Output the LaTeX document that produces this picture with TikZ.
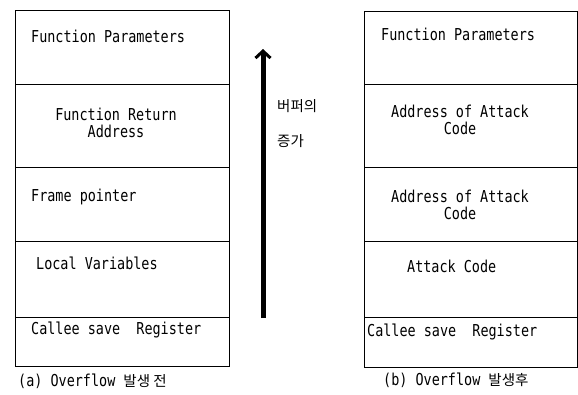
\documentclass[tikz,border=0pt]{standalone}
\usepackage{fontspec}
\setmainfont{DejaVu Sans Mono}[FakeStretch=0.82]
\newfontfamily\kr{Noto Sans CJK KR}
\usetikzlibrary{arrows.meta}
\begin{document}
\begin{tikzpicture}[x=1pt,y=-1pt,
  cell/.style={draw, line width=1.2pt, rectangle, inner sep=0pt, anchor=north west},
  lbl/.style={inner sep=0pt, font=\fontsize{16.4}{16}\selectfont, anchor=west},
  clbl/.style={inner sep=0pt, font=\fontsize{16.4}{17}\selectfont, align=center, anchor=center},
  captext/.style={inner sep=0pt, font=\fontsize{16.4}{16}\selectfont, anchor=west},
  krtext/.style={inner sep=0pt, anchor=west, font=\kr\fontsize{14.5}{16}\selectfont}]
\useasboundingbox (0,0) rectangle (578,394);
% left stack
\node[cell, minimum width=214pt, minimum height=74pt] (a1) at (15,10) {};
\node[cell, minimum width=214pt, minimum height=83pt] (a2) at (15,84) {};
\node[cell, minimum width=214pt, minimum height=74pt] (a3) at (15,167) {};
\node[cell, minimum width=214pt, minimum height=76pt] (a4) at (15,241) {};
\node[cell, minimum width=214pt, minimum height=49pt] (a5) at (15,317) {};
\node[lbl] (ta1) at (31,36) {Function Parameters};
\node[clbl] (ta2) at (116,123) {Function Return\\Address};
\node[lbl] (ta3) at (31,197) {Frame pointer};
\node[lbl] (ta4) at (36,263) {Local Variables};
\node[lbl] (ta5) at (31,330) {Callee save\ \ Register};
\node[captext] (capa) at (18,381) {(a) Overflow {\kr\fontsize{14.5}{16}\selectfont 발생 전}};
% right stack
\node[cell, minimum width=213pt, minimum height=73pt] (b1) at (364,11) {};
\node[cell, minimum width=213pt, minimum height=83pt] (b2) at (364,84) {};
\node[cell, minimum width=213pt, minimum height=74pt] (b3) at (364,167) {};
\node[cell, minimum width=213pt, minimum height=76pt] (b4) at (364,241) {};
\node[cell, minimum width=213pt, minimum height=50pt] (b5) at (364,317) {};
\node[lbl] (tb1) at (381,34) {Function Parameters};
\node[clbl] (tb2) at (460,120) {Address of Attack\\Code};
\node[clbl] (tb3) at (460,205) {Address of Attack\\Code};
\node[lbl] (tb4) at (407,266) {Attack Code};
\node[lbl] (tb5) at (367,332) {Callee save\ \ Register};
\node[captext] (capb) at (383,380) {(b) Overflow {\kr\fontsize{14.5}{16}\selectfont 발생후}};
% arrow
\coordinate (arrbot) at (263,318);
\coordinate (arrtop) at (263,49);
\draw[line width=5pt, -{Straight Barb[length=7pt,width=15pt,line width=3pt]}] (arrbot) -- (arrtop);
\node[krtext] (g1) at (277,106) {버퍼의};
\node[krtext] (g2) at (277,141) {증가};
\end{tikzpicture}
\end{document}
